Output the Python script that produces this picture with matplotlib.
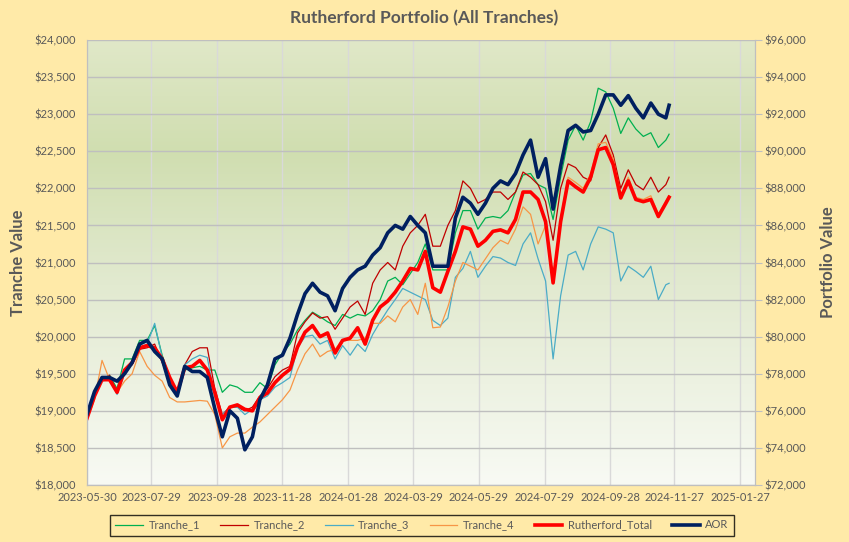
""" Rutherford portfolio, all tranches vs AOR """

import numpy as np
import pandas as pd
import matplotlib
matplotlib.use("Agg")
import matplotlib.pyplot as plt
import matplotlib.dates as mdates
from matplotlib.colors import LinearSegmentedColormap
from matplotlib.ticker import FuncFormatter, MultipleLocator

plt.rcParams['font.family'] = ['Lato', 'DejaVu Sans']

# weekly closes, last point is the final day
dates = list(pd.date_range('2023-05-30', periods=78, freq='7D')) + [pd.Timestamp('2024-11-22')]

tranche_1 = [18900, 19220, 19420, 19480, 19300, 19700, 19700, 19950, 19950, 20150,
             19750, 19450, 19250, 19550, 19580, 19600, 19550, 19550, 19250, 19350,
             19320, 19250, 19250, 19380, 19300, 19620, 19780, 19900, 20090, 20220,
             20330, 20270, 20200, 20150, 20300, 20250, 20300, 20280, 20350, 20500,
             20750, 20800, 20700, 20850, 21000, 21250, 20900, 20900, 20900, 21400,
             21700, 21700, 21450, 21600, 21620, 21600, 21700, 21950, 22180, 22200,
             22050, 22000, 21580, 22150, 22650, 22850, 22650, 22900, 23350, 23300,
             23080, 22740, 22950, 22800, 22700, 22750, 22550, 22650, 22730]
tranche_2 = [18900, 19200, 19420, 19480, 19250, 19550, 19620, 19830, 19850, 19900,
             19650, 19420, 19200, 19620, 19800, 19850, 19850, 19300, 18950, 19050,
             19050, 19000, 19050, 19200, 19300, 19460, 19550, 19600, 20050, 20200,
             20320, 20250, 20270, 20100, 20250, 20400, 20480, 20300, 20720, 20900,
             21000, 20900, 21220, 21400, 21500, 21650, 21220, 21220, 21500, 21700,
             22100, 22000, 21800, 21850, 21950, 21950, 21850, 21950, 22220, 22150,
             22050, 21820, 21300, 22000, 22330, 22280, 22150, 22100, 22550, 22720,
             22450, 22000, 22250, 22050, 21980, 22150, 21950, 22050, 22150]
tranche_3 = [18900, 19200, 19400, 19430, 19220, 19500, 19650, 19850, 19900, 20180,
             19720, 19400, 19200, 19620, 19700, 19750, 19720, 19180, 18950, 19050,
             19050, 18950, 19020, 19150, 19200, 19320, 19380, 19450, 19850, 20000,
             20020, 19900, 19950, 19700, 19880, 19750, 19900, 19800, 20030, 20200,
             20360, 20500, 20650, 20600, 20550, 20500, 20220, 20150, 20250, 20800,
             20920, 21150, 20800, 20950, 21080, 21060, 21000, 20960, 21250, 21400,
             21050, 20750, 19700, 20550, 21100, 21150, 20900, 21250, 21480, 21450,
             21400, 20750, 20950, 20880, 20800, 20950, 20500, 20700, 20720]
tranche_4 = [18880, 19150, 19680, 19420, 19250, 19400, 19500, 19800, 19600, 19480,
             19400, 19180, 19120, 19120, 19130, 19140, 19130, 18950, 18500, 18650,
             18700, 18700, 18780, 18850, 18950, 19050, 19150, 19280, 19550, 19770,
             19900, 19730, 19800, 19830, 19960, 19950, 19950, 19980, 20180, 20180,
             20280, 20200, 20400, 20500, 20300, 20720, 20120, 20130, 20400, 20750,
             21000, 20950, 20900, 21050, 21200, 21300, 21250, 21450, 21750, 21650,
             21250, 21500, 20800, 21600, 22150, 22080, 22000, 22200, 22600, 22620,
             22400, 21900, 22150, 21880, 21850, 21900, 21650, 21830, 21900]
rutherford_total = [75600, 76800, 77680, 77680, 77000, 78200, 78600, 79400, 79520, 79400,
                    78800, 77800, 77000, 78320, 78400, 78720, 78200, 77000, 75520, 76200,
                    76320, 76080, 76000, 76720, 76960, 77520, 77920, 78240, 79440, 80240,
                    80600, 80000, 80200, 79120, 79800, 79920, 80480, 79600, 80880, 81600,
                    81920, 82400, 83000, 83680, 83600, 84600, 82640, 82400, 83520, 84600,
                    85920, 85800, 84880, 85200, 85680, 85760, 85600, 86320, 87800, 87800,
                    87400, 86200, 82900, 86200, 88400, 88080, 87800, 88600, 90080, 90200,
                    89280, 87480, 88400, 87400, 87280, 87400, 86480, 87200, 87520]
aor = [75800, 77040, 77800, 77800, 77600, 78000, 78600, 79600, 79800, 79200,
       78800, 77400, 76800, 78400, 78120, 78120, 77800, 76120, 74600, 76000,
       75600, 73900, 74600, 76600, 77400, 78800, 79000, 79920, 81200, 82320,
       82880, 82400, 82200, 81400, 82600, 83200, 83600, 83800, 84400, 84800,
       85600, 86000, 85800, 86480, 86000, 85600, 83800, 83800, 83800, 86400,
       87520, 87200, 86600, 87200, 88000, 88400, 88200, 88800, 89800, 90600,
       88600, 89600, 86880, 89200, 91120, 91400, 91040, 91120, 92000, 93040,
       93040, 92480, 93000, 92320, 91800, 92600, 92000, 91800, 92480]

x_ticks = ['2023-05-30', '2023-07-29', '2023-09-28', '2023-11-28', '2024-01-28', '2024-03-29',
           '2024-05-29', '2024-07-29', '2024-09-28', '2024-11-27', '2025-01-27']

grey = '#595959'
fig = plt.figure(figsize=(8.49, 5.42), dpi=100, facecolor='#ffeaa8')
ax = fig.add_axes([87/849, 1 - 485/542, 668/849, 445/542])
ax2 = ax.twinx()

# gradient fill of plot area
cmap = LinearSegmentedColormap.from_list('bg', [(0, '#e0e8c8'), (0.25, '#d0deb0'),
                                                (0.55, '#e2ead0'), (1, '#f8faf4')])
ax.imshow(np.linspace(0, 1, 256).reshape(-1, 1), cmap=cmap, aspect='auto',
          extent=(0, 1, 0, 1), transform=ax.transAxes, zorder=0)

ax.plot(dates, tranche_1, c='#00b050', lw=0.9, label='Tranche_1', zorder=3)
ax.plot(dates, tranche_2, c='#c00000', lw=0.9, label='Tranche_2', zorder=3)
ax.plot(dates, tranche_3, c='#4bacc6', lw=0.9, label='Tranche_3', zorder=3)
ax.plot(dates, tranche_4, c='#f79646', lw=0.9, label='Tranche_4', zorder=3)
ax2.plot(dates, rutherford_total, c='#ff0000', lw=2.6, label='Rutherford_Total')
ax2.plot(dates, aor, c='#002060', lw=2.6, label='AOR')

ax.set_ylim(18000, 24000)
ax2.set_ylim(72000, 96000)
ax.yaxis.set_major_locator(MultipleLocator(500))
ax2.yaxis.set_major_locator(MultipleLocator(2000))
money = FuncFormatter(lambda v, p: '${:,.0f}'.format(v))
ax.yaxis.set_major_formatter(money)
ax2.yaxis.set_major_formatter(money)

ax.set_xlim(pd.Timestamp('2023-05-30'), pd.Timestamp('2025-02-10'))
ax.set_xticks([pd.Timestamp(d) for d in x_ticks])
ax.xaxis.set_major_formatter(mdates.DateFormatter('%Y-%m-%d'))

ax.grid(axis='y', color='#bfbfbf', lw=1, zorder=1)
ax.grid(axis='x', color='#d9d9d9', lw=1, zorder=1)
ax.set_axisbelow(False)
for a in (ax, ax2):
    for s in a.spines.values():
        s.set_color('#bfbfbf')
    a.spines['top'].set_visible(False)
ax.tick_params(axis='y', length=0, labelsize=8, labelcolor=grey, pad=8)
ax.tick_params(axis='x', length=0, labelsize=8, labelcolor=grey, pad=5)
ax2.tick_params(axis='y', length=5, color='#bfbfbf', labelsize=8, labelcolor=grey, pad=2)

ax.set_ylabel('Tranche Value', fontsize=12, fontweight='bold', color=grey, labelpad=6)
ax2.set_ylabel('Portfolio Value', fontsize=12, fontweight='bold', color=grey, labelpad=10)
fig.text(0.5, 1 - 18/542, 'Rutherford Portfolio (All Tranches)', ha='center', va='center',
         fontsize=12.5, fontweight='bold', color=grey)

h1, l1 = ax.get_legend_handles_labels()
h2, l2 = ax2.get_legend_handles_labels()
leg = fig.legend(h1 + h2, l1 + l2, loc='center', bbox_to_anchor=(422/849, 1 - 525/542),
                 ncol=6, fontsize=8, frameon=True, fancybox=False, handlelength=2.5,
                 handletextpad=0.5, columnspacing=1.8, borderpad=0.45)
leg.get_frame().set_edgecolor('black')
leg.get_frame().set_linewidth(1)
leg.get_frame().set_facecolor('#ffeaa8')
for t in leg.get_texts():
    t.set_color(grey)

fig.savefig('out.png', dpi=100, facecolor=fig.get_facecolor())
